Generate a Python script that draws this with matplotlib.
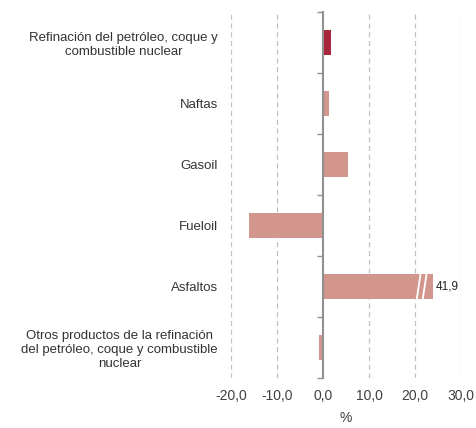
import matplotlib
matplotlib.use("Agg")
import matplotlib.pyplot as plt
import numpy as np

# data
categories = [
    "Refinación del petróleo, coque y\ncombustible nuclear",
    "Naftas",
    "Gasoil",
    "Fueloil",
    "Asfaltos",
    "Otros productos de la refinación\ndel petróleo, coque y combustible\nnuclear",
]
values = [1.7, 1.4, 5.4, -16.0, 41.9, -0.8]
bar_colors = ["#A8263B", "#D3968D", "#D3968D", "#D3968D", "#D3968D", "#D3968D"]
xticks = [-20, -10, 0, 10, 20, 30]
xtick_labels = ["-20,0", "-10,0", "0,0", "10,0", "20,0", "30,0"]
cap = 24.0  # axis break for the out-of-range bar

plt.rcParams["font.family"] = ["Liberation Sans", "DejaVu Sans"]

fig = plt.figure(figsize=(4.76, 4.28), dpi=100)
ax = fig.add_axes([0.485, 0.117, 0.4835, 0.855])

y = np.arange(len(categories))
shown = [min(v, cap) for v in values]
ax.barh(y, shown, height=0.42, color=bar_colors, zorder=3)

# break marks + label on the capped bar
for i, v in enumerate(values):
    if v > cap:
        for off in (-3.2, -1.9):
            ax.plot([cap + off - 0.5, cap + off + 0.5], [i + 0.25, i - 0.25],
                    color="white", lw=1.3, zorder=4)
        ax.text(cap + 0.5, i, f"{v:.1f}".replace(".", ","), va="center",
                ha="left", fontsize=8.5, color="#222222", zorder=5)

ax.set_xlim(-20, 30)
ax.set_ylim(len(categories) - 0.5, -0.5)

ax.set_xticks(xticks)
ax.set_xticklabels(xtick_labels, fontsize=10, color="#404040")
ax.tick_params(axis="x", length=0, pad=8)
for t in xticks:
    if t != 0:
        ax.axvline(t, color="#C0C0C0", lw=0.9, ls=(0, (4, 3)), zorder=1)

ax.set_yticks(y)
ax.set_yticklabels(categories, fontsize=9.5, color="#333333", multialignment="center")
ax.tick_params(axis="y", length=0, pad=9.5)

for s in ["top", "right", "bottom", "left"]:
    ax.spines[s].set_visible(False)

# zero line with category boundary ticks
zero_frac = (0 - xticks[0]) / (xticks[-1] - xticks[0])
sec = ax.secondary_yaxis(zero_frac)
sec.set_yticks([])
sec.set_yticks(np.arange(len(categories) + 1) - 0.5, minor=True)
sec.tick_params(which="minor", length=4, color="#909090", width=1, labelleft=False)
sec.spines["left"].set_color("#909090")
sec.spines["left"].set_linewidth(1.5)
sec.set_zorder(5)

ax.set_xlabel("%", fontsize=10, color="#404040", labelpad=6)

fig.savefig("out.png", dpi=100)
